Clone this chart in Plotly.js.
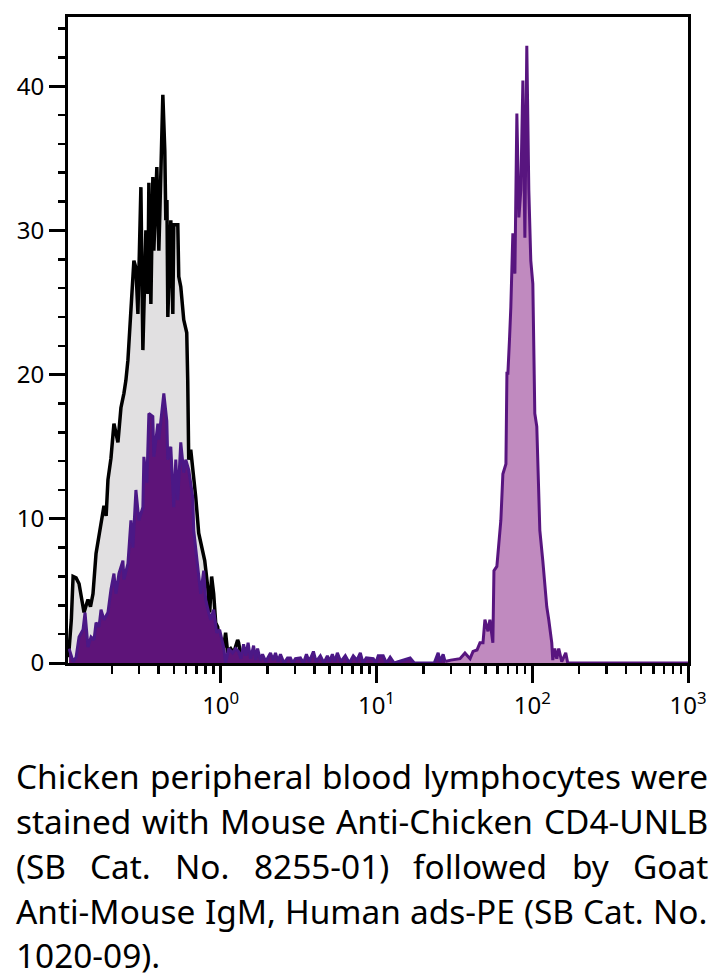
<!DOCTYPE html>
<html><head><meta charset="utf-8">
<script src="https://cdn.plot.ly/plotly-3.0.1.min.js"></script>
<style>html,body{margin:0;padding:0;background:#fff;} #chart{width:718px;height:979px;}</style>
</head><body><div id="chart"></div>
<script>
// Isotype / control histogram (black outline, gray fill)
const controlX = [0.1055, 0.110, 0.1129, 0.118, 0.1233, 0.127, 0.1327, 0.137, 0.1407, 0.146, 0.1515, 0.1585, 0.164, 0.1706, 0.1782, 0.184, 0.189, 0.1976, 0.2065, 0.2191, 0.229, 0.2393, 0.2464, 0.2539, 0.2654, 0.2773, 0.2857, 0.2943, 0.3076, 0.3167, 0.3311, 0.341, 0.346, 0.3565, 0.367, 0.3724, 0.3893, 0.401, 0.4069, 0.4254, 0.438, 0.4446, 0.452, 0.458, 0.4786, 0.4931, 0.5, 0.5307, 0.5383, 0.5546, 0.5795, 0.6057, 0.6146, 0.6237, 0.6426, 0.6621, 0.6918, 0.7229, 0.767, 0.790, 0.8256, 0.8505, 0.875, 0.902, 0.929, 0.9567, 0.971, 1.045, 1.076, 1.109, 1.125, 1.159, 1.211, 1.285, 1.304, 1.35, 1.403, 1.556, 1.8];
const controlY = [0.4, 3.0, 6.0, 5.9, 5.5, 4.6, 3.5, 4.0, 4.4, 3.9, 4.8, 7.6, 8.5, 9.7, 10.9, 10.2, 12.7, 14.2, 16.6, 15.3, 17.7, 18.7, 19.6, 21.0, 25.0, 27.9, 27.4, 24.2, 33.0, 21.7, 30.0, 25.6, 33.3, 24.9, 33.7, 28.6, 34.4, 28.6, 31.2, 39.4, 35.5, 30.7, 32.1, 24.0, 30.7, 24.2, 30.4, 30.4, 26.8, 26.1, 23.8, 22.9, 19.6, 14.1, 14.8, 13.6, 11.5, 9.0, 7.6, 7.1, 5.3, 3.5, 6.0, 4.8, 2.8, 2.5, 1.8, 1.1, 2.1, 0.7, 0.9, 1.0, 0.7, 1.6, 1.4, 0.5, 0.2, 0.1, 0];

// Stained sample, negative population + low tail (dark purple fill)
const stainedNegX = [0.1064, 0.1129, 0.118, 0.1233, 0.1307, 0.1347, 0.1407, 0.1472, 0.1538, 0.1585, 0.1656, 0.1706, 0.1782, 0.189, 0.1976, 0.2065, 0.2127, 0.2223, 0.2358, 0.2393, 0.2539, 0.2654, 0.2733, 0.2857, 0.2985, 0.3167, 0.3214, 0.3359, 0.346, 0.3669, 0.3724, 0.3951, 0.401, 0.419, 0.4316, 0.4511, 0.4577, 0.4785, 0.5001, 0.515, 0.5305, 0.5545, 0.5796, 0.597, 0.6237, 0.6618, 0.6717, 0.7122, 0.7446, 0.7782, 0.8015, 0.838, 0.8629, 0.902, 0.9428, 0.9854, 1.045, 1.076, 1.125, 1.193, 1.247, 1.304, 1.35, 1.403, 1.45, 1.50, 1.556, 1.627, 1.68, 1.726, 1.80, 1.857, 1.95, 2.089, 2.17, 2.249, 2.33, 2.421, 2.55, 2.685, 2.806, 2.9, 3.02, 3.25, 3.4, 3.553, 3.7, 3.939, 4.1, 4.366, 4.6, 4.84, 5.0, 5.21, 5.4, 5.61, 5.9, 6.31, 6.7, 7.10, 7.5, 7.88, 8.2, 8.61, 9.12, 9.54, 9.9, 10.27, 11.05, 11.6, 12.25, 13.0, 16.45, 17.5, 23.5, 24.9, 25.6, 26.8, 27.6];
const stainedNegY = [1.0, 0.1, 0.4, 1.8, 2.3, 3.5, 1.1, 1.8, 1.6, 2.8, 2.5, 3.7, 3.0, 3.5, 5.1, 6.2, 4.8, 6.2, 7.1, 5.8, 6.9, 9.9, 8.0, 12.0, 9.9, 10.8, 14.3, 12.5, 17.3, 17.1, 14.3, 16.6, 15.5, 17.5, 18.7, 16.8, 14.1, 15.0, 10.8, 14.1, 11.3, 15.3, 13.2, 14.1, 13.4, 11.5, 9.2, 6.7, 4.8, 6.4, 4.4, 3.5, 3.0, 3.7, 2.1, 2.3, 1.1, 0, 1.0, 0.7, 1.0, 0.8, 0.3, 1.3, 0.5, 1.4, 0.3, 1.2, 0.2, 1.0, 0.2, 0.6, 0.1, 0.7, 0.2, 0.7, 0.1, 0.6, 0, 0.35, 0.35, 0, 0.3, 0.35, 0, 0.6, 0.1, 0.8, 0.1, 0.5, 0, 0.5, 0.1, 0.6, 0.1, 0.7, 0.1, 0.5, 0, 0.5, 0.2, 0.7, 0, 0.35, 0.35, 0.3, 0, 0.5, 0.5, 0, 0.4, 0, 0.35, 0, 0, 0.7, 0.1, 0.6, 0.1];

// Stained sample, CD4+ population (light purple fill)
const stainedPosX = [27.6, 30.0, 34.4, 37.0, 39.9, 41.7, 44.2, 46.2, 48.3, 49.7, 52.0, 53.5, 55.9, 56.8, 59.3, 61.1, 62.9, 64.8, 65.8, 67.8, 68.8, 69.8, 71.5, 72.9, 75.1, 77.4, 79.7, 82.1, 84.5, 87.1, 89.7, 92.3, 95.1, 97.9, 100.9, 102.4, 103.9, 107.0, 108.6, 111.9, 116.9, 120.4, 124.0, 127.7, 133.5, 135.5, 139.5, 143.7, 148.0, 154.7, 164.1, 169.0, 1000];
const stainedPosY = [0.1, 0.2, 0.3, 0.7, 0.3, 0.8, 0.9, 1.4, 1.4, 3.0, 2.2, 3.0, 1.4, 6.4, 6.7, 8.3, 9.9, 13.1, 13.4, 13.8, 20.1, 20.1, 22.5, 24.7, 29.8, 27.0, 38.1, 30.9, 32.8, 40.4, 29.5, 42.8, 32.8, 27.9, 26.3, 21.9, 17.3, 16.4, 13.4, 9.2, 7.1, 5.5, 3.9, 3.0, 1.4, 0.2, 1.0, 0.3, 1.0, 0.1, 0.7, 0, 0];

const xTickVals = [1, 10, 100, 1000];
const xTickText = ['10<sup>0</sup>', '10<sup>1</sup>', '10<sup>2</sup>', '10<sup>3</sup>'];
const xMinorVals = [0.2, 0.3, 0.4, 0.5, 0.6, 0.7, 0.8, 0.9, 2, 3, 4, 5, 6, 7, 8, 9, 20, 30, 40, 50, 60, 70, 80, 90, 200, 300, 400, 500, 600, 700, 800, 900];
const yTickVals = [0, 10, 20, 30, 40];

const captionLines = [
  'Chicken peripheral blood lymphocytes were',
  'stained with Mouse Anti-Chicken CD4-UNLB',
  '(SB Cat. No. 8255-01) followed by Goat',
  'Anti-Mouse IgM, Human ads-PE (SB Cat. No.',
  '1020-09).'
];

const FONT = 'Noto Sans';
const W = 718, H = 979;
const M = {l: 68, r: 30, t: 17, b: 316};
const PW = W - M.l - M.r, PH = H - M.t - M.b;

// Justified caption, one annotation per word
const ctx = document.createElement('canvas').getContext('2d');
function tw(t, s) { ctx.font = s + 'px "' + FONT + '"'; return ctx.measureText(t).width; }
const capLeft = 15, capRight = 707;
const capBaselines = [789, 834, 879, 924, 968];
const maxW = Math.max(...captionLines.slice(0, 4).map(l => tw(l, 100)));
const capSize = 100 * (capRight - capLeft) / maxW * 0.995;
const annotations = [];
captionLines.forEach((line, i) => {
  const words = line.split(' ');
  const widths = words.map(wd => tw(wd, capSize));
  const total = widths.reduce((a, b) => a + b, 0);
  const justify = i < captionLines.length - 1;
  const gap = justify ? (capRight - capLeft - total) / (words.length - 1) : tw(' ', capSize);
  let x = capLeft;
  const yc = capBaselines[i] - 0.39 * capSize;
  words.forEach((wd, j) => {
    annotations.push({
      xref: 'paper', yref: 'paper',
      x: (x - M.l) / PW, y: (H - M.b - yc) / PH,
      xanchor: 'left', yanchor: 'middle',
      text: wd, showarrow: false, borderpad: 0,
      font: {family: FONT, size: capSize, color: '#000'}
    });
    x += widths[j] + gap;
  });
});

const traces = [
  {x: controlX, y: controlY, type: 'scatter', mode: 'lines', fill: 'tozeroy',
   fillcolor: '#e1e0e1', line: {color: '#000000', width: 3.5}, hoverinfo: 'skip'},
  {x: stainedNegX, y: stainedNegY, type: 'scatter', mode: 'lines', fill: 'tozeroy',
   fillcolor: '#5e1479', line: {color: '#4b1886', width: 3}, hoverinfo: 'skip'},
  {x: stainedPosX, y: stainedPosY, type: 'scatter', mode: 'lines', fill: 'tozeroy',
   fillcolor: '#c08abf', line: {color: '#58157f', width: 3}, hoverinfo: 'skip'}
];

const layout = {
  width: W, height: H, margin: M,
  paper_bgcolor: '#fff', plot_bgcolor: '#fff', showlegend: false,
  font: {family: FONT, color: '#000'},
  xaxis: {
    type: 'log', range: [-0.98, 3.0],
    tickmode: 'array', tickvals: xTickVals, ticktext: xTickText,
    ticks: 'outside', ticklen: 17, tickwidth: 3, tickcolor: '#000',
    showline: true, linewidth: 3, linecolor: '#000', mirror: true,
    showgrid: false, zeroline: false, ticklabelstandoff: 2,
    tickfont: {family: FONT, size: 24, color: '#000'},
    minor: {tickmode: 'array', tickvals: xMinorVals, ticks: 'outside', ticklen: 8, tickwidth: 2.5, tickcolor: '#000', showgrid: false}
  },
  yaxis: {
    range: [0, 44.8],
    tickmode: 'array', tickvals: yTickVals,
    ticks: 'outside', ticklen: 16, tickwidth: 3, tickcolor: '#000',
    showline: true, linewidth: 3, linecolor: '#000', mirror: true,
    showgrid: false, zeroline: false,
    tickfont: {family: FONT, size: 24, color: '#000'},
    minor: {dtick: 2, ticks: 'outside', ticklen: 7, tickwidth: 2.5, tickcolor: '#000', showgrid: false}
  },
  annotations: annotations
};

Plotly.newPlot('chart', traces, layout, {displayModeBar: false, staticPlot: true});
</script>
</body></html>
